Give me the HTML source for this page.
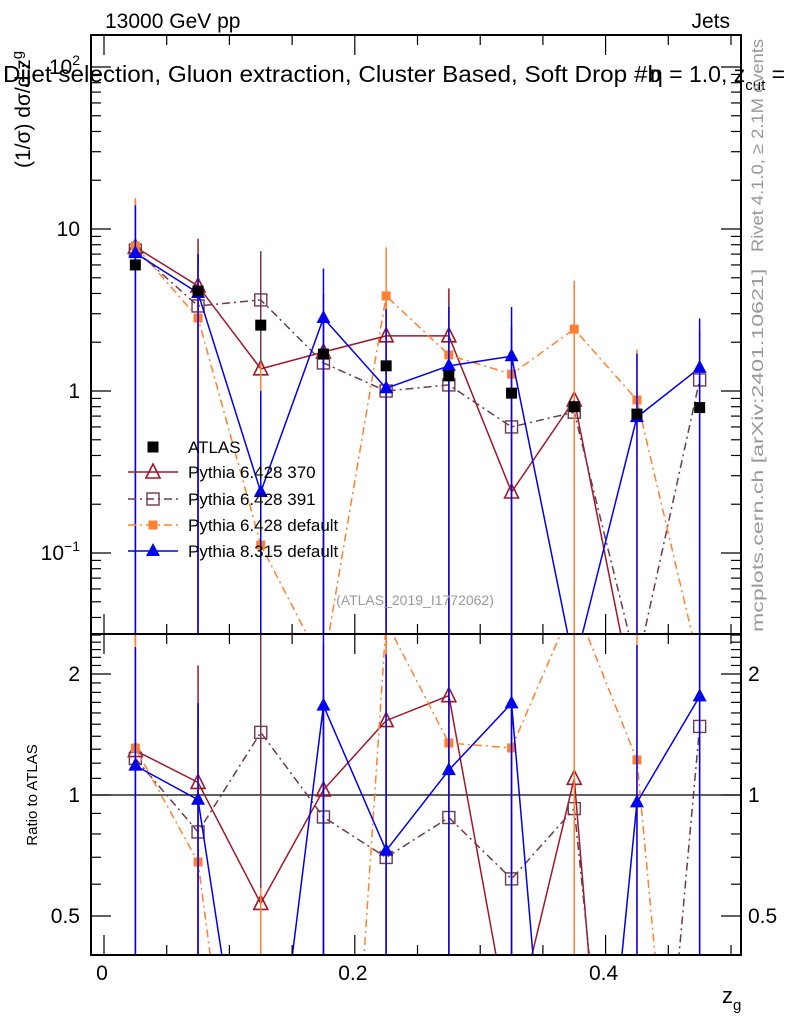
<!DOCTYPE html>
<html><head><meta charset="utf-8"><style>
html,body{margin:0;padding:0;background:#fff;overflow:hidden;width:786px;height:1024px;}
svg{display:block;font-family:"Liberation Sans",sans-serif;overflow:hidden;}
</style></head><body>
<svg id="chart" width="786" height="1024" viewBox="0 0 786 1024" xmlns="http://www.w3.org/2000/svg">
<defs>
<clipPath id="clipMain"><rect x="91" y="35" width="650" height="599"/></clipPath>
<clipPath id="clipRatio"><rect x="91" y="634" width="650" height="321"/></clipPath>
</defs>
<g id="gMain" clip-path="url(#clipMain)"></g>
<g id="gRatio" clip-path="url(#clipRatio)"></g>
<g id="gAxes"></g>
<text x="105" y="28" font-size="21">13000 GeV pp</text>
<text x="730" y="28" font-size="21" text-anchor="end">Jets</text>
<text x="3" y="82" font-size="23" textLength="658" lengthAdjust="spacingAndGlyphs">Dijet selection, Gluon extraction, Cluster Based, Soft Drop #b</text>
<text x="650" y="82" font-size="23">η = 1.0, z<tspan font-size="15" dy="8">cut</tspan><tspan font-size="23" dy="-8"> =</tspan></text>
<text transform="translate(30,168) rotate(-90)" font-size="21">(1/σ) dσ/d z<tspan font-size="15" dy="-8">g</tspan></text>
<text transform="translate(37,795) rotate(-90)" font-size="15" text-anchor="middle">Ratio to ATLAS</text>
<text x="722" y="1003" font-size="22">z<tspan font-size="15" dy="7">g</tspan></text>
<text transform="translate(763,252) rotate(-90) scale(1.08,1)" font-size="17" fill="#999">Rivet 4.1.0, ≥ 2.1M events</text>
<text transform="translate(763,632) rotate(-90) scale(1.45,1)" font-size="16" fill="#999">mcplots.cern.ch [arXiv:2401.10621]</text>
<text x="415" y="605" font-size="14" fill="#999" text-anchor="middle">(ATLAS_2019_I1772062)</text>
<g id="gLegend"></g>
</svg>
<script>
const xCenters = [0.025,0.075,0.125,0.175,0.225,0.275,0.325,0.375,0.425,0.475];
const atlasVals = [6.0,4.14,2.55,1.69,1.43,1.24,0.97,0.80,0.72,0.79];
const p370Vals = [7.74,4.45,1.37,1.74,2.19,2.19,0.238,0.88,0.01,0.01];
const p391Vals = [7.4,3.35,3.65,1.49,1.0,1.09,0.6,0.74,0.02,1.17];
const p6defVals = [7.85,2.82,0.112,0.02,3.86,1.67,1.27,2.41,0.88,0.02];
const p8Vals = [7.1,4.03,0.238,2.82,1.04,1.43,1.64,0.02,0.69,1.39];
const p370Up = [15,8.7,4,4,4,4.3,2.5,1.8,0.03,0.03];
const p391Up = [14,7,7.3,3,3,3.5,2.5,1.6,0.03,2.4];
const p6defUp = [15.5,6,1.5,0.03,7.7,3.3,2.5,4.8,1.8,0.03];
const p8Up = [14,7,1.0,5.7,3.2,3.3,3.3,0.03,1.7,2.8];
const mainTicks = [0.1,1,10,100];
const ratioTicks = [0.5,1,2];
const xTicks = [0,0.2,0.4];

const NS="http://www.w3.org/2000/svg";
const X0=91,X1=741,Y0=35,Y1=634,R1=955;
const xs=z=>104+z*1254;
const ym=v=>391-162*Math.log10(Math.max(v,1e-6));
const yr=v=>795-402*Math.log10(Math.max(v,1e-6));
function mk(parent,tag,attrs){const e=document.createElementNS(NS,tag);for(const k in attrs)e.setAttribute(k,attrs[k]);parent.appendChild(e);return e;}
const gM=document.getElementById('gMain'),gR=document.getElementById('gRatio'),gA=document.getElementById('gAxes'),gL=document.getElementById('gLegend');

const series=[
 {name:'pythia-6428-370',vals:p370Vals,up:p370Up,color:'#a01828',dash:'',marker:'tri-open'},
 {name:'pythia-6428-391',vals:p391Vals,up:p391Up,color:'#6e3a50',dash:'8,4,2,4',marker:'sq-open'},
 {name:'pythia-6428-default',vals:p6defVals,up:p6defUp,color:'#ff8030',dash:'8,4,2,4',marker:'sq-small'},
 {name:'pythia-8315-default',vals:p8Vals,up:p8Up,color:'#0000ee',dash:'',marker:'tri-fill'}
];
function marker(g,type,x,y,c){
 let e;
 if(type==='tri-open') e=mk(g,'polygon',{points:`${x},${y-8} ${x-7},${y+6} ${x+7},${y+6}`,fill:'none',stroke:c,'stroke-width':1.6});
 else if(type==='tri-fill') e=mk(g,'polygon',{points:`${x},${y-8} ${x-7},${y+5} ${x+7},${y+5}`,fill:c});
 else if(type==='sq-open') e=mk(g,'rect',{x:x-6,y:y-6,width:12,height:12,fill:'none',stroke:c,'stroke-width':1.4});
 else if(type==='sq-small') e=mk(g,'rect',{x:x-4.5,y:y-4.5,width:9,height:9,fill:c});
 else e=mk(g,'rect',{x:x-5.5,y:y-5.5,width:11,height:11,fill:'#000'});
 return e;
}
function drawSeries(g,s,yf,ratio,bottom){
 const sg=mk(g,'g',{});
 
 
 const vals=s.vals.map((v,i)=>ratio?v/atlasVals[i]:v);
 const ups=s.up.map((v,i)=>ratio?v/atlasVals[i]:v);
 xCenters.forEach((z,i)=>{
  const eb=mk(sg,'line',{x1:xs(z),x2:xs(z),y1:Math.max(yf(ups[i]),0),y2:bottom,stroke:s.color,'stroke-width':1.5});
  
  
 });
 const pl=mk(sg,'polyline',{points:vals.map((v,i)=>xs(xCenters[i])+','+yf(v)).join(' '),fill:'none',stroke:s.color,'stroke-width':1.5,'stroke-dasharray':s.dash});
 
 
 vals.forEach((v,i)=>{const y=yf(v);if(y>bottom+20)return;const m=marker(sg,s.marker,xs(xCenters[i]),y,s.color);
  
  });
}
const l1=mk(gR,'line',{x1:X0,x2:X1,y1:yr(1),y2:yr(1),stroke:'#000','stroke-width':1.3});


series.forEach(s=>{drawSeries(gM,s,ym,false,Y1);drawSeries(gR,s,yr,true,R1);});
const ag=mk(gM,'g',{});


atlasVals.forEach((v,i)=>{const m=marker(ag,'atlas',xs(xCenters[i]),ym(v),'#000');
 
 });

[[Y0,Y1],[Y1,R1]].forEach(([a,b])=>{const r=mk(gA,'rect',{x:X0,y:a,width:X1-X0,height:b-a,fill:'none',stroke:'#000','stroke-width':2});
 
 });
for(let k=0;k<=10;k++){const z=k*0.05;const x=xs(z);const maj=(k%4===0);const L=maj?20:10;
 [[Y0,1],[Y1,-1],[Y1,1],[R1,-1]].forEach(([y,d])=>mk(gA,'line',{x1:x,x2:x,y1:y,y2:y+d*L,stroke:'#000','stroke-width':1.2}));}
xTicks.forEach(t=>{const e=mk(gA,'text',{x:xs(t)-2,y:980,'font-size':21,'text-anchor':'middle'});e.textContent=t===0?'0':String(t);
 
 });
for(let d=-2;d<=2;d++)for(let m=1;m<10;m++){const v=m*Math.pow(10,d);const y=ym(v);if(y<Y0||y>Y1)continue;const L=m===1?20:10;
 mk(gA,'line',{x1:X0,x2:X0+L,y1:y,y2:y,stroke:'#000','stroke-width':1.2});mk(gA,'line',{x1:X1,x2:X1-L,y1:y,y2:y,stroke:'#000','stroke-width':1.2});}
mainTicks.forEach(v=>{const y=ym(v);const e=mk(gA,'text',{x:80,y:y+7,'font-size':21,'text-anchor':'end'});
 if(v===10)e.textContent='10';else if(v===1)e.textContent='1';else{const p=Math.round(Math.log10(v));e.innerHTML='10<tspan font-size="14" dy="-9">'+(p<0?'−'+(-p):p)+'</tspan>';}
 
 });
for(let k=4;k<=25;k++){const v=k/10;const y=yr(v);if(y<Y1||y>R1)continue;const maj=(v===0.5||v===1||v===2);const L=maj?20:10;
 mk(gA,'line',{x1:X0,x2:X0+L,y1:y,y2:y,stroke:'#000','stroke-width':1.2});mk(gA,'line',{x1:X1,x2:X1-L,y1:y,y2:y,stroke:'#000','stroke-width':1.2});}
ratioTicks.forEach(v=>{const y=yr(v);[[80,'end'],[748,'start']].forEach(([x,a])=>{const e=mk(gA,'text',{x:x,y:y+7,'font-size':21,'text-anchor':a});e.textContent=String(v);
 
 });});
const legNames=['ATLAS','Pythia 6.428 370','Pythia 6.428 391','Pythia 6.428 default','Pythia 8.315 default'];
const legY=[447,472,499,525,551];
legNames.forEach((n,i)=>{const g=mk(gL,'g',{});
 
 
 const y=legY[i];
 if(i===0){marker(g,'atlas',153,y,'#000');}
 else{const s=series[i-1];mk(g,'line',{x1:128,x2:178,y1:y,y2:y,stroke:s.color,'stroke-width':1.5,'stroke-dasharray':s.dash});marker(g,s.marker,153,y,s.color);}
 const t=mk(g,'text',{x:188,y:y+6,'font-size':17});t.textContent=n;});
</script>
</body></html>
